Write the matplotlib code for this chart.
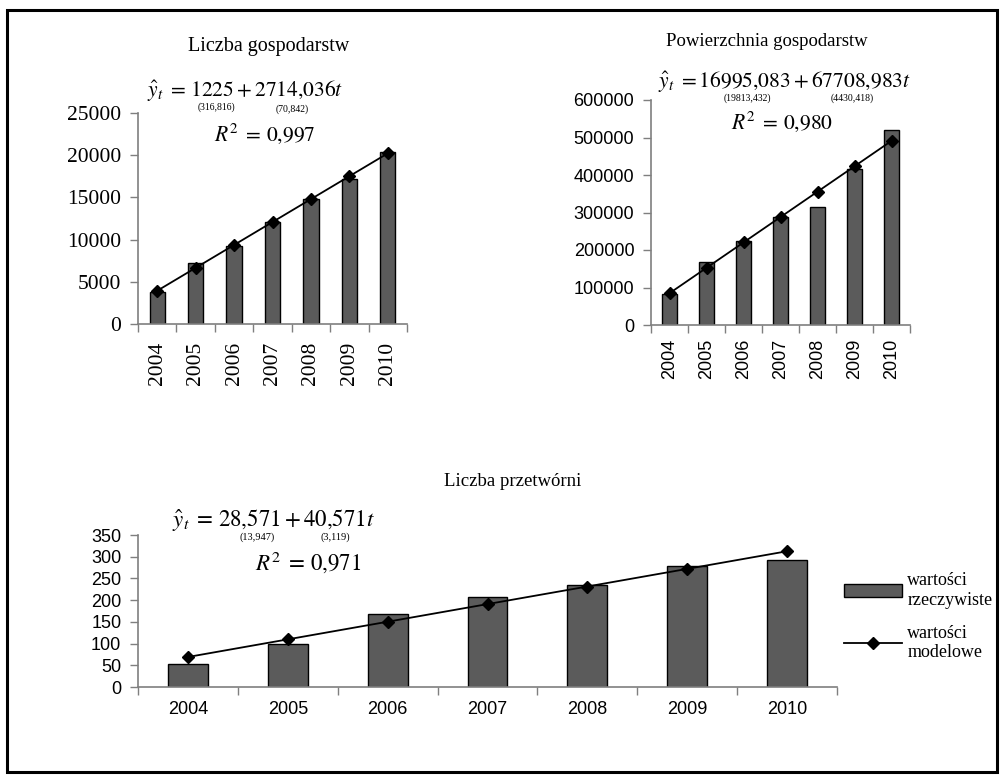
import matplotlib
matplotlib.use("Agg")
import matplotlib.pyplot as plt
from matplotlib.patches import Rectangle, Patch
from matplotlib.lines import Line2D
import numpy as np

years = ["2004", "2005", "2006", "2007", "2008", "2009", "2010"]

# Liczba gospodarstw
farms_actual = [3850, 7280, 9300, 12050, 14850, 17150, 20400]
farms_model = [3939, 6653, 9367, 12081, 14795, 17509, 20223]

# Powierzchnia gospodarstw
area_actual = [82000, 167000, 225000, 288000, 314000, 415000, 521000]
area_model = [84704, 152413, 220122, 287831, 355540, 423249, 490958]

# Liczba przetwórni
plants_actual = [53, 100, 169, 207, 235, 279, 292]
plants_model = [69.1, 109.7, 150.3, 190.9, 231.4, 272.0, 312.6]

W, H = 1006, 780
SERIF = "Liberation Serif"
SANS = "Liberation Sans"
BAR_COLOR = "#5b5b5b"
AXIS_COLOR = "#7f7f7f"

plt.rcParams["mathtext.fontset"] = "stix"
plt.rcParams["font.family"] = SERIF


def fpos(x, y):
    # pixel position in the picture -> figure fraction
    return x / W, 1 - y / H


def make_axes(fig, x0, y0, x1, y1):
    l, t = fpos(x0, y0)
    r, b = fpos(x1, y1)
    return fig.add_axes([l, b, r - l, t - b])


def draw_chart(ax, actual, model, ymax, step, tick_font, tick_size, rotate):
    x = np.arange(len(years))
    ax.bar(x, actual, width=0.4, color=BAR_COLOR, edgecolor="black",
           linewidth=1.0, zorder=2)
    ax.plot(x, model, color="black", linewidth=1.3, marker="D",
            markersize=6.5, zorder=3)
    ax.set_xlim(-0.5, len(years) - 0.5)
    ax.set_ylim(0, ymax)
    ax.set_yticks(np.arange(0, ymax + 1, step))
    ax.set_xticks(x)
    ax.set_xticks(np.arange(-0.5, len(years), 1.0), minor=True)
    ax.set_xticklabels(years, rotation=90 if rotate else 0,
                       fontfamily=tick_font, fontsize=tick_size)
    for lab in ax.get_yticklabels():
        lab.set_fontfamily(tick_font)
        lab.set_fontsize(tick_size)
    ax.tick_params(axis="x", which="major", length=0, pad=13)
    ax.tick_params(axis="x", which="minor", length=6, width=1,
                   color=AXIS_COLOR, direction="out")
    ax.tick_params(axis="y", length=6, width=1, color=AXIS_COLOR,
                   direction="out", pad=6)
    for side in ("top", "right"):
        ax.spines[side].set_visible(False)
    for side in ("left", "bottom"):
        ax.spines[side].set_color(AXIS_COLOR)
        ax.spines[side].set_linewidth(1.2)
    ax.patch.set_alpha(0)


def equation(fig, x, y, text, size):
    fx, fy = fpos(x, y)
    fig.text(fx, fy, text, fontsize=size, ha="center", va="center")


def small(fig, x, y, text, size=7):
    fx, fy = fpos(x, y)
    fig.text(fx, fy, text, fontsize=size, ha="center", va="center",
             fontfamily=SERIF)


fig = plt.figure(figsize=(W / 100, H / 100), dpi=100)

# outer frame
frame = Rectangle((7 / W, 1 - 772 / H), (997 - 7) / W, (772 - 10) / H,
                  transform=fig.transFigure, fill=False,
                  edgecolor="black", linewidth=2.2)
fig.add_artist(frame)

# --- chart 1
ax1 = make_axes(fig, 138, 113, 407, 324)
draw_chart(ax1, farms_actual, farms_model, 25000, 5000, SERIF, 15.5, True)
tx, ty = fpos(269, 47)
fig.text(tx, ty, "Liczba gospodarstw", fontsize=14.5, ha="center",
         va="center")
equation(fig, 245, 91, r"$\hat{y}_t\;=\,1225+2714{,}036t$", 15.5)
small(fig, 216, 107, "(316,816)")
small(fig, 292, 109, "(70,842)")
equation(fig, 265, 134, r"$R^2\;=\,0{,}997$", 15.5)

# --- chart 2
ax2 = make_axes(fig, 651, 100, 910, 325)
draw_chart(ax2, area_actual, area_model, 600000, 100000, SANS, 13, True)
ax2.tick_params(axis="x", which="major", pad=10)
tx, ty = fpos(767, 41)
fig.text(tx, ty, "Powierzchnia gospodarstw", fontsize=13.5, ha="center",
         va="center")
equation(fig, 784, 82, r"$\hat{y}_t\;=16995{,}083+67708{,}983t$", 15.5)
small(fig, 747, 98, "(19813,432)")
small(fig, 852, 98, "(4430,418)")
equation(fig, 782, 122, r"$R^2\;=\,0{,}980$", 15.5)

# --- chart 3
ax3 = make_axes(fig, 138, 535, 837, 687)
draw_chart(ax3, plants_actual, plants_model, 350, 50, SANS, 13, False)
ax3.tick_params(axis="x", which="major", pad=10)
tx, ty = fpos(513, 482)
fig.text(tx, ty, "Liczba przetwórni", fontsize=13.5, ha="center",
         va="center")
equation(fig, 273, 520, r"$\hat{y}_t\;=\,28{,}571+40{,}571t$", 16.5)
small(fig, 257, 537, "(13,947)", 7.5)
small(fig, 335, 537, "(3,119)", 7.5)
equation(fig, 308, 562, r"$R^2\;=\,0{,}971$", 16.5)

handles = [
    Patch(facecolor=BAR_COLOR, edgecolor="black", linewidth=1.0),
    Line2D([], [], color="black", linewidth=1.3, marker="D",
           markersize=6.5),
]
lx, ly = fpos(844, 572)
ax3.legend(handles, ["wartości\nrzeczywiste", "wartości\nmodelowe"],
           loc="upper left", bbox_to_anchor=(lx, ly),
           bbox_transform=fig.transFigure, frameon=False,
           prop={"family": SERIF, "size": 13}, handlelength=3.2,
           handleheight=0.7, handletextpad=0.3, labelspacing=0.9,
           borderaxespad=0, borderpad=0)

fig.savefig("out.png", dpi=100)
